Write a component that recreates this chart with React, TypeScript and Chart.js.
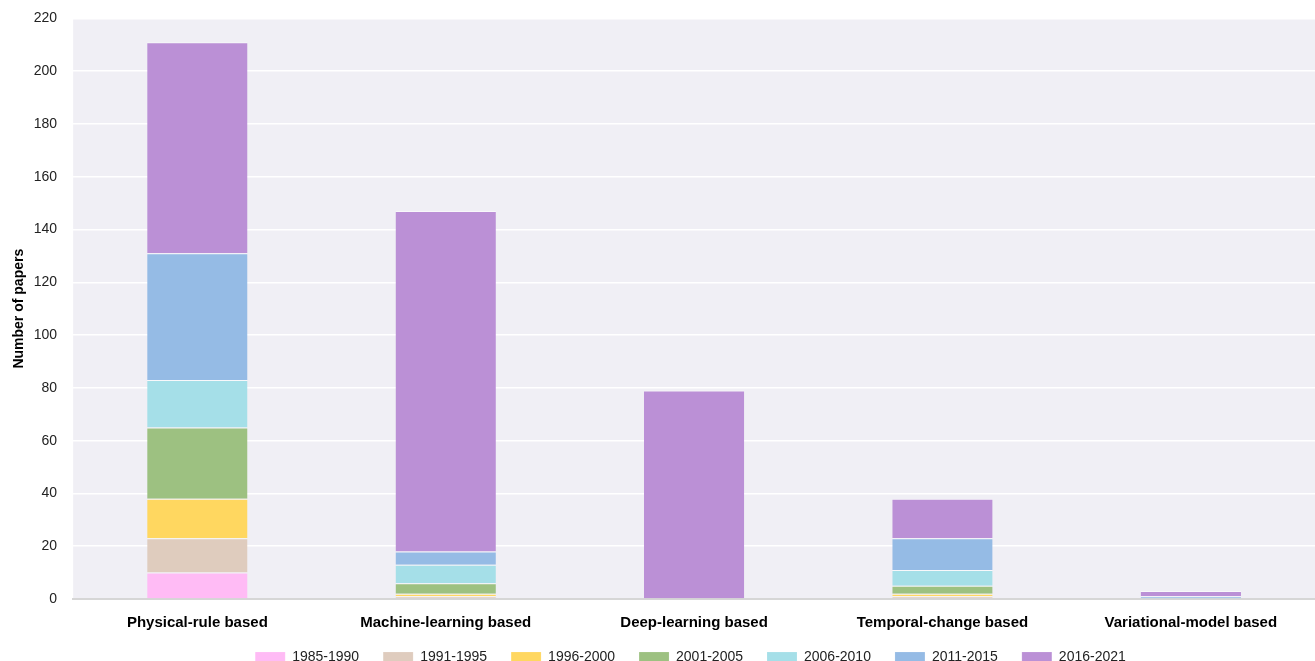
import React, { useEffect, useRef } from "react";
import { Chart, registerables } from "chart.js";

Chart.register(...registerables);

const categories = [
  "Physical-rule based",
  "Machine-learning based",
  "Deep-learning based",
  "Temporal-change based",
  "Variational-model based",
];

const periods = ["1985-1990", "1991-1995", "1996-2000", "2001-2005", "2006-2010", "2011-2015", "2016-2021"];

const s1985_1990 = [10, 0, 0, 0, 0];
const s1991_1995 = [13, 1, 0, 1, 0];
const s1996_2000 = [15, 1, 0, 1, 0];
const s2001_2005 = [27, 4, 0, 3, 0];
const s2006_2010 = [18, 7, 0, 6, 0];
const s2011_2015 = [48, 5, 0, 12, 1];
const s2016_2021 = [80, 129, 79, 15, 2];

const seriesValues = [s1985_1990, s1991_1995, s1996_2000, s2001_2005, s2006_2010, s2011_2015, s2016_2021];
const colors = ["#FFBBF5", "#DFCCBE", "#FFD760", "#9DC181", "#A5DFE8", "#95BBE5", "#BB90D6"];

const yTicks = [0, 20, 40, 60, 80, 100, 120, 140, 160, 180, 200, 220];

const FONT = "'Liberation Sans', Arial, sans-serif";

const LEGEND_H = 14;
const LEGEND_SHIFT = 21;
const LEGEND_XSHIFT = 33;

const plotBg = {
  id: "plotBg",
  afterInit(chart: any) {
    const lg = chart.legend;
    if (lg && !lg.__patched) {
      const orig = lg.fit;
      lg.fit = function () {
        orig.call(this);
        this.height = LEGEND_H;
      };
      lg.__patched = true;
    }
  },
  afterLayout(chart: any) {
    const lg = chart.legend;
    if (lg) {
      lg.top -= LEGEND_SHIFT;
      lg.bottom = chart.height;
      lg.height = lg.bottom - lg.top;
      lg.left += LEGEND_XSHIFT;
      lg.right += LEGEND_XSHIFT;
    }
  },
  beforeDraw(chart: any) {
    const { ctx, chartArea } = chart;
    if (!chartArea) return;
    ctx.save();
    ctx.fillStyle = "#F0EFF5";
    ctx.fillRect(chartArea.left, chartArea.top, chartArea.right - chartArea.left, chartArea.bottom - chartArea.top);
    ctx.restore();
  },
};

export default function App() {
  const ref = useRef<HTMLCanvasElement>(null);
  useEffect(() => {
    if (!ref.current) return;
    const chart = new Chart(ref.current, {
      type: "bar",
      data: {
        labels: categories,
        datasets: periods.map((p, i) => ({
          label: p,
          data: seriesValues[i],
          backgroundColor: colors[i],
          borderColor: "rgba(255,255,255,0.55)",
          borderWidth: { top: 1, bottom: 0, left: 0, right: 0 },
          borderSkipped: false,
          categoryPercentage: 0.8,
          barPercentage: 0.505,
        })),
      },
      plugins: [plotBg],
      options: {
        animation: false,
        responsive: false,
        maintainAspectRatio: false,
        layout: { padding: { top: 0, right: 0, left: 0, bottom: 0 } },
        plugins: {
          legend: {
            position: "bottom",
            labels: {
              boxWidth: 30,
              boxHeight: 10,
              padding: 24,
              color: "#222",
              font: { family: FONT, size: 14 },
            },
          },
          tooltip: { enabled: false },
        },
        scales: {
          x: {
            stacked: true,
            grid: { display: false, drawTicks: false },
            border: { display: true, color: "#D6D6D6", width: 2 },
            ticks: {
              color: "#000",
              padding: 15,
              font: { family: FONT, size: 15, weight: "bold" },
            },
          },
          y: {
            stacked: true,
            min: 0,
            max: 220,
            afterBuildTicks: (axis: any) => {
              axis.ticks = yTicks.map((v) => ({ value: v }));
            },
            grid: { color: "#FFFFFF", lineWidth: 1.5, drawTicks: false },
            border: { display: false },
            ticks: {
              color: "#222",
              padding: 16,
              font: { family: FONT, size: 14 },
            },
            title: {
              display: true,
              text: "Number of papers",
              color: "#000",
              font: { family: FONT, size: 14, weight: "bold" },
              padding: { top: 11, bottom: -10 },
            },
          },
        },
      },
    });
    return () => chart.destroy();
  }, []);
  return (
    <div style={{ position: "absolute", left: 0, top: 0, width: 1315, height: 661, background: "#fff", overflow: "hidden" }}>
      <canvas ref={ref} width={1315} height={667} style={{ position: "absolute", left: 0, top: -6 }} />
    </div>
  );
}
